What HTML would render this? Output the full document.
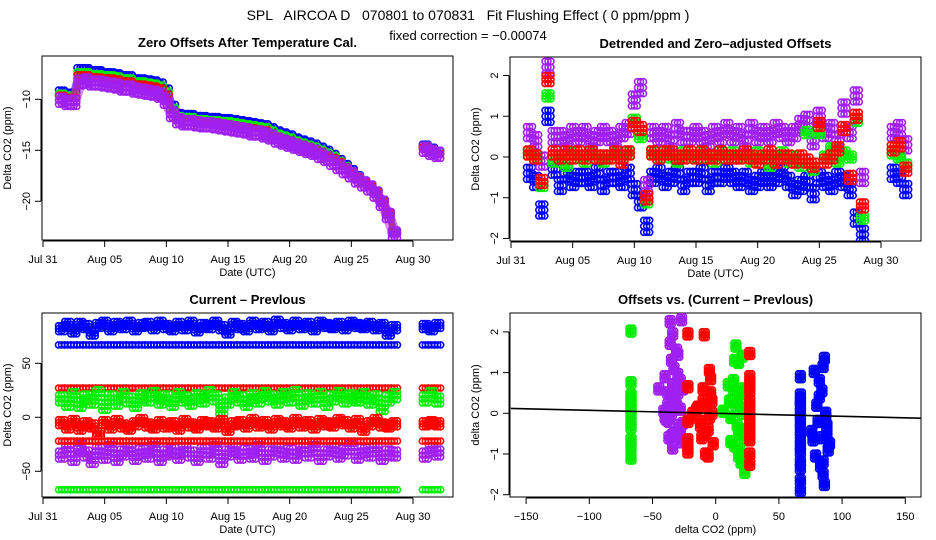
<!DOCTYPE html>
<html><head><meta charset="utf-8"><style>
html,body{margin:0;padding:0;background:#fff;}
svg{display:block;font-family:"Liberation Sans",sans-serif;}
svg text{white-space:pre;}
</style></head><body>
<svg id="chart" width="936" height="540" viewBox="0 0 936 540" xmlns="http://www.w3.org/2000/svg">
<text x="468" y="20" text-anchor="middle" font-size="14">SPL   AIRCOA D   070801 to 070831   Fit Flushing Effect ( 0 ppm/ppm )</text>
<text x="468" y="40" text-anchor="middle" font-size="13">fixed correction = −0.00074</text>
</svg>
<script>
// shared time grid (days since Jul 31)
const times = [1.5,2,2.5,3,3.5,4,4.5,5,5.5,6,6.5,7,7.5,8,8.5,9,9.5,10,10.5,11,11.5,12,12.5,13,13.5,14,14.5,15,15.5,16,16.5,17,17.5,18,18.5,19,19.5,20,20.5,21,21.5,22,22.5,23,23.5,24,24.5,25,25.5,26,26.5,27,27.5,28,28.5,31,31.5,32];
const dateTicks = [0,5,10,15,20,25,30];
const dateLabels = ["Jul 31","Aug 05","Aug 10","Aug 15","Aug 20","Aug 25","Aug 30"];
// Panel 1: zero offsets
const p1Blue = [-9.1,-9.3,-9.3,-6.9,-6.9,-7.1,-7.1,-7.3,-7.3,-7.4,-7.6,-7.6,-7.9,-7.9,-8.0,-8.1,-8.3,-8.9,-10.5,-11.3,-11.4,-11.4,-11.6,-11.6,-11.7,-11.7,-11.8,-11.8,-11.9,-12.0,-12.1,-12.2,-12.3,-12.4,-12.7,-13.0,-13.2,-13.4,-13.7,-13.9,-14.1,-14.3,-14.6,-14.9,-15.3,-15.8,-16.3,-16.8,-17.4,-17.9,-18.3,-18.9,-19.8,-21.0,-23.0,-14.4,-14.7,-15.0];
const p1Green = [-9.4,-9.6,-9.6,-7.3,-7.3,-7.5,-7.5,-7.6,-7.6,-7.7,-7.9,-7.9,-8.2,-8.2,-8.3,-8.4,-8.6,-9.2,-10.8,-11.6,-11.7,-11.7,-11.9,-11.9,-12.0,-12.0,-12.1,-12.1,-12.2,-12.3,-12.4,-12.5,-12.6,-12.7,-13.0,-13.3,-13.5,-13.7,-14.0,-14.2,-14.4,-14.6,-14.9,-15.2,-15.5,-16.0,-16.5,-17.0,-17.5,-18.0,-18.4,-19.0,-19.9,-21.1,-23.1,-14.5,-14.8,-15.1];
const p1Red = [-9.6,-9.8,-9.8,-7.6,-7.6,-7.8,-7.8,-7.9,-7.9,-8.0,-8.2,-8.2,-8.5,-8.5,-8.6,-8.7,-8.9,-9.5,-11.1,-11.8,-11.9,-11.9,-12.1,-12.1,-12.2,-12.2,-12.3,-12.4,-12.5,-12.6,-12.7,-12.8,-12.9,-13.0,-13.3,-13.6,-13.8,-14.0,-14.2,-14.4,-14.6,-14.8,-15.1,-15.4,-15.7,-16.1,-16.6,-17.1,-17.6,-18.1,-18.5,-19.1,-20.0,-21.2,-23.2,-14.7,-15.0,-15.3];
const p1Purple = [-10.1,-10.3,-10.3,-8.3,-8.2,-8.4,-8.4,-8.5,-8.6,-8.7,-8.9,-8.9,-9.1,-9.2,-9.3,-9.4,-9.6,-10.2,-11.5,-12.1,-12.3,-12.3,-12.4,-12.5,-12.5,-12.6,-12.7,-12.8,-12.9,-13.0,-13.1,-13.3,-13.3,-13.5,-13.7,-14.0,-14.2,-14.4,-14.6,-14.8,-15.0,-15.2,-15.5,-15.8,-16.2,-16.6,-17.0,-17.4,-17.9,-18.3,-18.7,-19.3,-20.2,-21.4,-23.2,-14.9,-15.2,-15.4];
const p1Ticks = [-10,-15,-20];
// Panel 2: detrended
const p2Blue = [-0.4,-0.6,-1.3,1.0,-0.3,-0.7,-0.4,-0.6,-0.5,-0.5,-0.6,-0.4,-0.7,-0.5,-0.5,-0.6,-0.4,-0.8,-1.1,-1.7,-0.5,-0.4,-0.6,-0.5,-0.4,-0.7,-0.5,-0.5,-0.4,-0.7,-0.5,-0.5,-0.4,-0.5,-0.6,-0.5,-0.7,-0.6,-0.5,-0.6,-0.5,-0.4,-0.6,-0.8,-0.7,-0.6,-0.9,-0.5,-0.6,-0.7,-0.5,-0.6,-0.8,-1.5,-1.9,-0.4,-0.5,-0.8];
const p2Green = [0.1,0.0,-0.7,1.5,-0.1,0.0,-0.2,0.1,0.0,-0.1,0.1,0.0,-0.1,0.0,0.1,0.0,0.1,0.9,0.5,-1.1,0.1,0.0,0.1,0.0,-0.1,0.1,0.0,0.0,0.1,0.0,-0.1,0.1,0.0,0.1,0.0,0.0,-0.1,0.1,0.0,-0.2,0.0,0.1,-0.1,0.0,-0.2,0.6,-0.3,0.6,0.0,0.2,-0.1,0.1,0.0,0.9,-1.5,0.1,0.0,-0.2];
const p2Red = [0.1,0.0,-0.6,1.9,0.1,0.0,0.1,0.0,0.1,0.0,0.1,0.0,0.0,0.0,0.1,-0.1,0.1,0.8,0.7,-1.0,0.1,0.0,0.1,0.1,0.0,0.0,0.1,0.0,0.1,0.0,0.0,0.1,0.0,0.0,0.0,0.1,0.0,-0.1,0.0,0.1,-0.1,0.0,0.0,-0.1,0.0,-0.1,-0.2,0.8,-0.1,0.0,0.2,0.7,-0.5,1.0,-1.2,0.2,0.3,-0.3];
const p2Purple = [0.6,0.4,-0.1,2.2,0.5,0.5,0.4,0.6,0.5,0.6,0.4,0.5,0.6,0.5,0.4,0.6,0.7,1.4,1.7,-0.7,0.6,0.5,0.6,0.4,0.7,0.5,0.5,0.6,0.5,0.4,0.6,0.5,0.7,0.5,0.6,0.4,0.7,0.5,0.6,0.5,0.7,0.6,0.5,0.6,0.8,0.9,0.4,1.0,0.6,0.7,0.4,1.2,0.6,1.5,-0.5,0.6,0.7,0.3];
const p2Ticks = [-2,-1,0,1,2];
// Panel 3: current - previous
const p3BlueHi = [82,86,80,86,84,78,85,87,82,86,84,87,82,85,86,83,87,84,82,86,83,87,81,85,84,87,83,79,86,84,82,87,84,86,82,88,85,83,87,84,86,82,87,85,84,86,83,87,85,84,86,83,85,78,83,84,82,85];
const p3BlueConst = [67,67,67,67,67,67,67,67,67,67,67,67,67,67,67,67,67,67,67,67,67,67,67,67,67,67,67,67,67,67,67,67,67,67,67,67,67,67,67,67,67,67,67,67,67,67,67,67,67,67,67,67,67,67,67,67,67,67];
const p3RedConstHi = [27,27,27,27,27,27,27,27,27,27,27,27,27,27,27,27,27,27,27,27,27,27,27,27,27,27,27,27,27,27,27,27,27,27,27,27,27,27,27,27,27,27,27,27,27,27,27,27,27,27,27,27,27,27,27,27,27,27];
const p3Green = [17,13,20,12,18,15,22,10,18,14,20,16,12,19,17,21,15,18,13,20,17,14,19,16,22,18,7,15,20,17,13,19,16,21,18,15,20,17,22,14,19,16,20,13,18,21,16,19,17,20,15,18,9,17,20,17,21,16];
const p3Red = [-5,-9,-4,-10,-6,-8,-15,-5,-9,-4,-8,-10,-6,-3,-7,-9,-5,-8,-6,-10,-4,-7,-9,-5,-6,-8,-4,-11,-6,-5,-8,-3,-7,-5,-9,-4,-6,-8,-3,-7,-5,-9,-4,-6,-7,-3,-5,-8,-4,-11,-6,-3,-7,-8,-6,-6,-5,-6];
const p3RedConstLo = [-22,-22,-22,-22,-22,-22,-22,-22,-22,-22,-22,-22,-22,-22,-22,-22,-22,-22,-22,-22,-22,-22,-22,-22,-22,-22,-22,-22,-22,-22,-22,-22,-22,-22,-22,-22,-22,-22,-22,-22,-22,-22,-22,-22,-22,-22,-22,-22,-22,-22,-22,-22,-22,-22,-22,-22,-22,-22];
const p3Purple = [-35,-30,-38,-28,-34,-40,-31,-36,-29,-38,-33,-30,-37,-32,-35,-29,-38,-33,-31,-36,-30,-34,-38,-31,-35,-29,-40,-33,-30,-36,-32,-35,-29,-37,-33,-30,-35,-32,-36,-30,-34,-29,-37,-33,-30,-35,-32,-28,-36,-31,-34,-30,-37,-33,-34,-35,-30,-33];
const p3GreenConst = [-67,-67,-67,-67,-67,-67,-67,-67,-67,-67,-67,-67,-67,-67,-67,-67,-67,-67,-67,-67,-67,-67,-67,-67,-67,-67,-67,-67,-67,-67,-67,-67,-67,-67,-67,-67,-67,-67,-67,-67,-67,-67,-67,-67,-67,-67,-67,-67,-67,-67,-67,-67,-67,-67,-67,-67,-67,-67];
const p3Ticks = [-50,0,50];
// Panel 4: offsets vs (current - previous)
const p4GreenX = [-67,-67,-67,-67,-67,-67,-67,-67,-67,-67,-67,-67,-67,6,10,12,14,15,16,17,18,19,20,21,22,23,24,15,18,20,12,16,22,19,17,21,14,23,11,18];
const p4GreenY = [2.02,0.75,0.45,0.3,0.1,-0.05,-0.2,-0.35,-0.65,-0.85,-1.1,0.2,0.4,0.05,0.7,-0.7,0.8,1.3,1.65,0.3,1.25,-0.9,0.5,1.4,0.6,-1.45,0.1,-0.8,-1.05,-1.2,-0.1,0.2,-0.4,0.4,-0.3,0.0,0.6,-0.6,0.3,-0.5];
const p4RedX = [-22,-22,-22,-22,-22,-22,-20,-18,-15,-12,-10,-8,-6,-5,-4,-3,-2,-9,-11,-7,-5,-3,-14,-6,-4,-8,-10,-12,27,27,27,27,27,27,27,27,27,27,27,27];
const p4RedY = [1.95,0.65,-0.2,-0.65,-0.85,-0.95,-0.1,0.0,0.1,-0.3,0.6,-1.0,-1.05,1.05,0.85,0.3,-0.75,1.93,-0.6,0.2,-0.1,0.0,0.15,-0.4,0.5,-0.5,0.3,-0.2,1.47,0.9,0.75,0.55,0.3,0.1,-0.1,-0.3,-0.5,-0.65,-1.0,-1.25];
const p4PurpleX = [-36,-27,-34,-36,-31,-30,-45,-40,-38,-35,-33,-30,-28,-26,-38,-36,-34,-32,-30,-28,-40,-37,-35,-33,-31,-29,-27,-39,-35,-34,-28,-26,-41,-37];
const p4PurpleY = [2.25,2.3,1.95,1.72,1.55,1.45,0.6,0.9,0.5,1.3,1.1,0.95,0.8,0.6,0.2,0.4,0.7,0.3,0.5,0.1,-0.1,-0.2,0.0,-0.5,0.2,-0.3,-0.7,-0.15,-0.55,-0.85,-0.45,-0.25,0.05,-0.6];
const p4BlueX = [67,67,67,67,67,67,67,67,67,67,67,67,67,67,78,80,82,84,85,86,87,88,90,76,79,83,85,88,81,84,86,89,82,77,85,87];
const p4BlueY = [0.9,0.45,0.3,0.0,-0.2,-0.4,-0.6,-0.8,-0.95,-1.2,-1.35,-1.65,-1.9,0.2,1.03,0.2,0.8,0.55,1.15,1.35,0.0,-0.5,-0.75,-0.45,-1.05,-1.3,-1.5,-0.3,-0.2,-0.6,-1.75,-0.9,0.4,-0.65,-1.2,-0.1];
const p4XTicks = [-150,-100,-50,0,50,100,150];
const p4YTicks = [-2,-1,0,1,2];
const fitSlope = -0.00074;
const fitRange = [-162,162];

const NS = "http://www.w3.org/2000/svg";
const svg = document.getElementById("chart");
const BLUE="#0000ff", GREEN="#00ee00", RED="#ff0000", PURPLE="#a020f0";
function mk(tag, attrs, parent){const e=document.createElementNS(NS,tag);for(const k in attrs)e.setAttribute(k,attrs[k]);(parent||svg).appendChild(e);return e;}

function panel(name, box, title, xs, ys, xTicks, xLabels, yTicks, xTitle, yTitle){
  const g = mk("g",{});
  
  
  const [x0,y0,x1,y1]=box;
  const t = mk("text",{x:(x0+x1)/2,y:y0-9,"text-anchor":"middle","font-size":"13","font-weight":"bold"},g);
  t.textContent = title;
  
  
  const fr = mk("rect",{x:x0,y:y0,width:x1-x0,height:y1-y0,fill:"none",stroke:"#000","stroke-width":"1"},g);
  
  
  const xa = mk("g",{},g);
  
  
  const ya_ = y1+1;
  mk("line",{x1:xs(xTicks[0]),x2:xs(xTicks[xTicks.length-1]),y1:ya_,y2:ya_,stroke:"#000"},xa);
  xTicks.forEach((v,i)=>{
    mk("line",{x1:xs(v),x2:xs(v),y1:ya_,y2:ya_+6,stroke:"#000"},xa);
    const l = mk("text",{x:xs(v),y:ya_+22,"text-anchor":"middle","font-size":"11"},xa);
    l.textContent = xLabels[i];
    
    
  });
  const xt = mk("text",{x:(x0+x1)/2,y:ya_+35,"text-anchor":"middle","font-size":"11"},g);
  xt.textContent = xTitle;
  
  
  const yaG = mk("g",{},g);
  
  
  const xa_ = x0-1;
  mk("line",{x1:xa_,x2:xa_,y1:ys(yTicks[0]),y2:ys(yTicks[yTicks.length-1]),stroke:"#000"},yaG);
  yTicks.forEach(v=>{
    mk("line",{x1:xa_-6,x2:xa_,y1:ys(v),y2:ys(v),stroke:"#000"},yaG);
    const l = mk("text",{x:0,y:0,"text-anchor":"middle","font-size":"11",transform:`translate(${xa_-11},${ys(v)}) rotate(-90)`},yaG);
    l.textContent = String(v).replace("-","\u2212");
    
    
  });
  const yt = mk("text",{x:0,y:0,"text-anchor":"middle","font-size":"11",transform:`translate(${x0-31},${(y0+y1)/2}) rotate(-90)`},g);
  yt.textContent = yTitle;
  
  
  const clip = "clip-"+name;
  const cp = mk("clipPath",{id:clip},g);
  mk("rect",{x:x0,y:y0,width:x1-x0,height:y1-y0},cp);
  const plot = mk("g",{"clip-path":`url(#${clip})`},g);
  
  
  return plot;
}
function band(plot, name, xv, yv, xs, ys, color, width){
  let segs=[[]];
  for(let i=0;i<xv.length;i++){
    if(i>0 && xv[i]-xv[i-1]>1.5) segs.push([]);
    segs[segs.length-1].push(xs(xv[i]).toFixed(1)+","+ys(yv[i]).toFixed(1));
  }
  segs.forEach(s=>{
    const p = mk("polyline",{points:s.join(" "),fill:"none",stroke:color,"stroke-width":width,"stroke-linejoin":"round","stroke-linecap":"round",opacity:"0.55"},plot);
    
    
  });
}
// spread: pixel offsets used to render a cloud of markers around each sample (visual density only)
function points(plot, name, xv, yv, xs, ys, color, spreadX, spreadY){
  const g = mk("g",{fill:"none",stroke:color,"stroke-width":"1.6"},plot);
  
  
  const dxs = spreadX ? [-spreadX,0,spreadX] : [0];
  const dys = spreadY ? [-spreadY,0,spreadY] : [0];
  for(let i=0;i<xv.length;i++){
    const cx = xs(xv[i]), cy = ys(yv[i]);
    dys.forEach((dy,j)=>{
      dxs.forEach((dx,k)=>{
        if(dy!==0 && dx!==0 && (j+k)%2===1) return;
        const c = mk("circle",{cx:(cx+dx).toFixed(1),cy:(cy+dy).toFixed(1),r:"3"},g);
        
        
      });
    });
  }
}

// Panel 1
{
  const xs = t=>43+t*12.333, ys = v=>99.3+(-10-v)*10.2;
  const p = panel("panel-zero-offsets",[42,56,453,240],"Zero Offsets After Temperature Cal.",xs,ys,dateTicks,dateLabels,p1Ticks,"Date (UTC)","Delta CO2 (ppm)");
  band(p,"p1-blue",times,p1Blue,xs,ys,BLUE,7);
  points(p,"p1-blue",times,p1Blue,xs,ys,BLUE,3,0);
  band(p,"p1-green",times,p1Green,xs,ys,GREEN,6);
  points(p,"p1-green",times,p1Green,xs,ys,GREEN,3,0);
  band(p,"p1-red",times,p1Red,xs,ys,RED,6);
  points(p,"p1-red",times,p1Red,xs,ys,RED,3,0);
  band(p,"p1-purple",times,p1Purple,xs,ys,"#c020e0",12);
  points(p,"p1-purple",times,p1Purple,xs,ys,PURPLE,3,4);
}
// Panel 2
{
  const xs = t=>511+t*12.333, ys = v=>157-v*40.75;
  const p = panel("panel-detrended",[510,57,921,241],"Detrended and Zero\u2013adjusted Offsets",xs,ys,dateTicks,dateLabels,p2Ticks,"Date (UTC)","Delta CO2 (ppm)");
  points(p,"p2-blue",times,p2Blue,xs,ys,BLUE,3,6);
  points(p,"p2-purple",times,p2Purple,xs,ys,PURPLE,3,6);
  points(p,"p2-green",times,p2Green,xs,ys,GREEN,3,3);
  points(p,"p2-red",times,p2Red,xs,ys,RED,3,4);
}
// Panel 3
{
  const xs = t=>43+t*12.333, ys = v=>417.3-v*1.08;
  const p = panel("panel-current-previous",[42,313,453,497],"Current \u2013 Prevlous",xs,ys,dateTicks,dateLabels,p3Ticks,"Date (UTC)","Delta CO2 (ppm)");
  points(p,"p3-blue-hi",times,p3BlueHi,xs,ys,BLUE,3,3);
  points(p,"p3-blue-const",times,p3BlueConst,xs,ys,BLUE,3,0);
  points(p,"p3-red-const-hi",times,p3RedConstHi,xs,ys,RED,3,0);
  points(p,"p3-green",times,p3Green,xs,ys,GREEN,3,4);
  points(p,"p3-red",times,p3Red,xs,ys,RED,3,3);
  points(p,"p3-purple",times,p3Purple,xs,ys,PURPLE,3,4);
  points(p,"p3-red-const-lo",times,p3RedConstLo,xs,ys,RED,3,0);
  points(p,"p3-green-const",times,p3GreenConst,xs,ys,GREEN,3,0);
}
// Panel 4
{
  const xs = v=>715.7+v*1.264, ys = v=>413.3-v*40.7;
  const lbl = p4XTicks.map(v=>String(v).replace("-","\u2212"));
  const p = panel("panel-offsets-vs-diff",[510,313,921,497],"Offsets vs. (Current \u2013 Prevlous)",xs,ys,p4XTicks,lbl,p4YTicks,"delta CO2 (ppm)","delta CO2 (ppm)");
  points(p,"p4-green",p4GreenX,p4GreenY,xs,ys,GREEN,2,3);
  points(p,"p4-purple",p4PurpleX,p4PurpleY,xs,ys,PURPLE,2,3);
  points(p,"p4-red",p4RedX,p4RedY,xs,ys,RED,2,3);
  points(p,"p4-blue",p4BlueX,p4BlueY,xs,ys,BLUE,2,3);
  const fl = mk("line",{x1:xs(fitRange[0]),y1:ys(fitRange[0]*fitSlope),x2:xs(fitRange[1]),y2:ys(fitRange[1]*fitSlope),stroke:"#000","stroke-width":"1.6"},p);
  
  
}
</script>
</body></html>
